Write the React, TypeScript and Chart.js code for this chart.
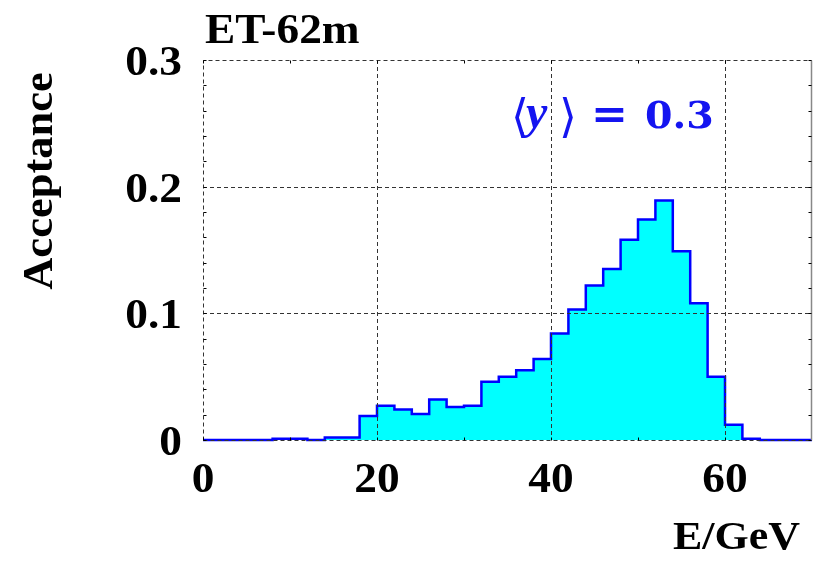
import React, { useEffect, useRef } from "react";
import { Chart, registerables } from "chart.js";

Chart.register(...registerables);

// Histogram of acceptance vs. energy, 2 GeV bins from 0 to 70 GeV
const binEdges: number[] = [
  0, 2, 4, 6, 8, 10, 12, 14, 16, 18, 20, 22, 24, 26, 28, 30, 32, 34,
  36, 38, 40, 42, 44, 46, 48, 50, 52, 54, 56, 58, 60, 62, 64, 66, 68, 70,
];
const acceptance: number[] = [
  0, 0, 0, 0, 0.001, 0.001, 0, 0.002, 0.002, 0.019, 0.027, 0.024, 0.0205,
  0.032, 0.026, 0.027, 0.046, 0.05, 0.055, 0.064, 0.084, 0.103, 0.122,
  0.135, 0.158, 0.174, 0.189, 0.149, 0.108, 0.05, 0.012, 0.001, 0, 0, 0,
];
const xTicks: number[] = [0, 20, 40, 60];
const xTickLabels: string[] = ["0", "20", "40", "60"];
const yTicks: number[] = [0, 0.1, 0.2, 0.3];
const yTickLabels: string[] = ["0", "0.1", "0.2", "0.3"];
const xMinorTicks: number[] = [10, 30, 50];
const yMinorTicks: number[] = [0.02, 0.04, 0.06, 0.08, 0.12, 0.14, 0.16, 0.18, 0.22, 0.24, 0.26, 0.28];

const titleText = "ET-62m";
const xTitle = "E/GeV";
const yTitle = "Acceptance";
const meanValue = "0.3";

const SERIF = '"Liberation Serif", "Times New Roman", serif';
const STRETCH = 1.08;

function stretchedText(
  ctx: CanvasRenderingContext2D,
  text: string,
  x: number,
  y: number,
  align: "left" | "right" | "center",
  stretch = STRETCH
) {
  const w = ctx.measureText(text).width * stretch;
  let left = x;
  if (align === "right") left = x - w;
  else if (align === "center") left = x - w / 2;
  ctx.save();
  ctx.translate(left, y);
  ctx.scale(stretch, 1);
  ctx.textAlign = "left";
  ctx.fillText(text, 0, 0);
  ctx.restore();
  return w;
}

const framePlugin = {
  id: "frameAndLabels",
  afterDatasetsDraw(chart: any) {
    const { ctx, chartArea } = chart;
    const xs = chart.scales.x;
    const ys = chart.scales.y;
    const { left, right, top, bottom } = chartArea;
    ctx.save();

    // dashed grid lines
    ctx.strokeStyle = "#333";
    ctx.lineWidth = 1;
    ctx.setLineDash([4, 3]);
    ctx.beginPath();
    for (const v of xTicks) {
      if (v === 0) continue;
      const px = Math.round(xs.getPixelForValue(v)) + 0.5;
      ctx.moveTo(px, top);
      ctx.lineTo(px, bottom);
    }
    for (const v of yTicks) {
      if (v === 0 || v === 0.3) continue;
      const py = Math.round(ys.getPixelForValue(v)) + 0.5;
      ctx.moveTo(left, py);
      ctx.lineTo(right, py);
    }
    ctx.stroke();

    // frame: dashed top/left/bottom, solid grey right
    const l = Math.round(left) + 0.5;
    const r = Math.round(right) - 0.5;
    const t = Math.round(top) + 0.5;
    const b = Math.round(bottom) + 0.5;
    ctx.beginPath();
    ctx.moveTo(l, b);
    ctx.lineTo(l, t);
    ctx.lineTo(r, t);
    ctx.moveTo(l, b);
    ctx.lineTo(r, b);
    ctx.stroke();
    ctx.setLineDash([]);
    ctx.strokeStyle = "#888";
    ctx.lineWidth = 1.5;
    ctx.beginPath();
    ctx.moveTo(r, t);
    ctx.lineTo(r, b);
    ctx.stroke();

    // small inward tick marks
    ctx.strokeStyle = "#000";
    ctx.lineWidth = 1;
    ctx.beginPath();
    for (const v of [...xMinorTicks, ...xTicks]) {
      const px = Math.round(xs.getPixelForValue(v)) + 0.5;
      ctx.moveTo(px, b);
      ctx.lineTo(px, b - 3);
      ctx.moveTo(px, t);
      ctx.lineTo(px, t + 3);
    }
    for (const v of [...yMinorTicks, ...yTicks]) {
      const py = Math.round(ys.getPixelForValue(v)) + 0.5;
      ctx.moveTo(l, py);
      ctx.lineTo(l + 3, py);
      ctx.moveTo(r, py);
      ctx.lineTo(r - 3, py);
    }
    ctx.stroke();

    // tick labels
    ctx.fillStyle = "#000";
    ctx.font = `bold 42px ${SERIF}`;
    ctx.textBaseline = "alphabetic";
    yTicks.forEach((v, i) => {
      const py = ys.getPixelForValue(v);
      stretchedText(ctx, yTickLabels[i], left - 21, py + 15, "right");
    });
    xTicks.forEach((v, i) => {
      const px = xs.getPixelForValue(v);
      stretchedText(ctx, xTickLabels[i], px, bottom + 52, "center");
    });

    // title
    stretchedText(ctx, titleText, left + 2, top - 17, "left");

    // x-axis title
    ctx.font = `bold 40px ${SERIF}`;
    stretchedText(ctx, xTitle, right - 12, bottom + 109, "right", 1.1);

    // y-axis title (rotated)
    ctx.font = `bold 42px ${SERIF}`;
    ctx.save();
    ctx.translate(left - 151, top + 121);
    ctx.rotate(-Math.PI / 2);
    stretchedText(ctx, yTitle, 0, 0, "center", 1.06);
    ctx.restore();

    // mean-value annotation: <y> = 0.3
    ctx.fillStyle = "#1414f0";
    const x0 = xs.getPixelForValue(35.4);
    const base = ys.getPixelForValue(0.2465);
    ctx.textAlign = "left";
    ctx.font = `46px "DejaVu Serif", ${SERIF}`;
    ctx.fillText("\u27E8", x0, base + 4);
    ctx.font = `italic bold 48px ${SERIF}`;
    ctx.fillText("y", x0 + 15, base);
    ctx.font = `46px "DejaVu Serif", ${SERIF}`;
    ctx.fillText("\u27E9", x0 + 48, base + 4);
    ctx.font = `bold 42px "DejaVu Serif", ${SERIF}`;
    ctx.save();
    ctx.translate(x0 + 80, base);
    ctx.scale(1.05, 1);
    ctx.fillText("=", 0, 0);
    ctx.restore();
    ctx.font = `bold 38px "DejaVu Serif", ${SERIF}`;
    stretchedText(ctx, meanValue, x0 + 134, base, "left", 1.04);

    ctx.restore();
  },
};

export default function App() {
  const canvasRef = useRef<HTMLCanvasElement | null>(null);

  useEffect(() => {
    const canvas = canvasRef.current;
    if (!canvas) return;
    // each bin's value is held from its left edge to its right edge
    const points = [{ x: binEdges[0], y: acceptance[0] }];
    for (let i = 0; i < acceptance.length; i++) {
      points.push({ x: binEdges[i + 1], y: acceptance[i] });
    }
    const chart = new Chart(canvas, {
      type: "line",
      data: {
        datasets: [
          {
            data: points,
            stepped: "after",
            fill: "origin",
            backgroundColor: "#00ffff",
            borderColor: "#0000ff",
            borderWidth: 2.5,
            pointRadius: 0,
            clip: 4,
          },
        ],
      },
      options: {
        responsive: false,
        animation: false,
        events: [],
        layout: { padding: { left: 203, right: 6, top: 60, bottom: 125 } },
        plugins: {
          legend: { display: false },
          tooltip: { enabled: false },
          title: { display: false },
        },
        scales: {
          x: {
            type: "linear",
            min: 0,
            max: 70,
            ticks: { display: false },
            grid: { display: false, drawTicks: false },
            border: { display: false },
          },
          y: {
            type: "linear",
            min: 0,
            max: 0.3,
            ticks: { display: false },
            grid: { display: false, drawTicks: false },
            border: { display: false },
          },
        },
      },
      plugins: [framePlugin],
    });
    return () => chart.destroy();
  }, []);

  return (
    <div style={{ position: "absolute", left: 0, top: 0, width: 818, height: 565, background: "#fff" }}>
      <canvas ref={canvasRef} width={818} height={565} />
    </div>
  );
}
